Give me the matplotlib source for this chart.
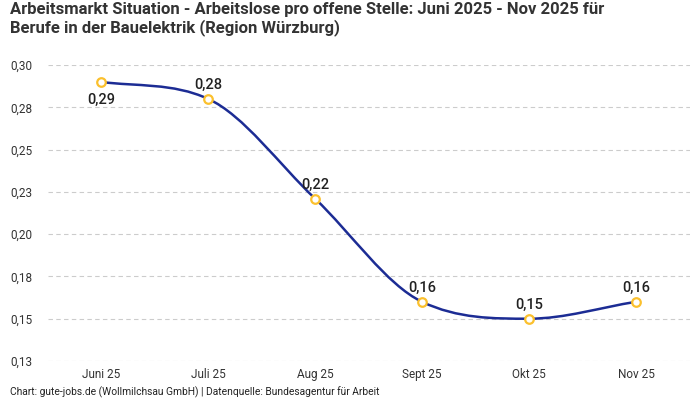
import numpy as np
import matplotlib.pyplot as plt
from matplotlib.path import Path
from matplotlib.patches import PathPatch
from matplotlib.ticker import FuncFormatter

months = ['Juni 25', 'Juli 25', 'Aug 25', 'Sept 25', 'Okt 25', 'Nov 25']
values = [0.29, 0.28, 0.221, 0.16, 0.15, 0.16]
labels = ['0,29', '0,28', '0,22', '0,16', '0,15', '0,16']

plt.rcParams['font.family'] = ['Roboto', 'DejaVu Sans']

fig = plt.figure(figsize=(7, 4), dpi=100)
ax = fig.add_axes([0.068, 0.0975, 0.917, 0.74])

x = np.arange(len(months))
y = np.array(values)

# monotone cubic tangents (same idea as chart.js "monotone"), drawn as bezier segments
d = np.diff(y) / np.diff(x)
n = len(y)
m = np.zeros(n)
for i in range(n):
    if i == 0:
        m[i] = d[0]
    elif i == n - 1:
        m[i] = d[-1]
    elif np.sign(d[i - 1]) != np.sign(d[i]):
        m[i] = 0
    else:
        m[i] = (d[i - 1] + d[i]) / 2
for i in range(n - 1):
    if d[i] == 0:
        m[i] = m[i + 1] = 0
        continue
    a, b = m[i] / d[i], m[i + 1] / d[i]
    s = a * a + b * b
    if s > 9:
        t = 3 / np.sqrt(s)
        m[i] = a * t * d[i]
        m[i + 1] = b * t * d[i]

verts = [(x[0], y[0])]
codes = [Path.MOVETO]
for i in range(n - 1):
    h = x[i + 1] - x[i]
    verts += [(x[i] + h / 3, y[i] + m[i] * h / 3),
              (x[i + 1] - h / 3, y[i + 1] - m[i + 1] * h / 3),
              (x[i + 1], y[i + 1])]
    codes += [Path.CURVE4] * 3
ax.add_patch(PathPatch(Path(verts, codes), facecolor='none',
                       edgecolor='#1c2c94', lw=1.8, zorder=3))

ax.scatter(x, y, s=38, facecolor='white', edgecolor='#fbc02d',
           linewidth=1.6, zorder=4)

for i, (xi, yi) in enumerate(zip(x, y)):
    if i == 0:
        ax.annotate(labels[i], (xi, yi), xytext=(0, -8), textcoords='offset points',
                    ha='center', va='top', fontsize=10.5, fontweight='medium', color='#222222')
    else:
        ax.annotate(labels[i], (xi, yi), xytext=(0, 5), textcoords='offset points',
                    ha='center', va='bottom', fontsize=10.5, fontweight='medium', color='#222222')

ax.set_xlim(-0.5, len(months) - 0.5)
ax.set_ylim(0.125, 0.30)
ax.set_xticks(x)
ax.set_xticklabels(months)
ax.set_yticks([0.125, 0.15, 0.175, 0.2, 0.225, 0.25, 0.275, 0.30])
ax.yaxis.set_major_formatter(FuncFormatter(lambda v, p: f'{v + 1e-9:.2f}'.replace('.', ',')))
ax.tick_params(axis='both', length=0, labelsize=8.5, colors='#333333')
ax.tick_params(axis='x', pad=5)
ax.tick_params(axis='y', pad=27)
for lab in ax.get_yticklabels():
    lab.set_horizontalalignment('left')
ax.grid(axis='y', color='#cccccc', linestyle=(0, (4, 3)), linewidth=0.8)
ax.set_axisbelow(True)
for s in ax.spines.values():
    s.set_visible(False)

fig.text(0.014, 0.995, 'Arbeitsmarkt Situation - Arbeitslose pro offene Stelle: Juni 2025 - Nov 2025 für\nBerufe in der Bauelektrik (Region Würzburg)',
         ha='left', va='top', fontsize=12, fontweight='bold', color='#333333', linespacing=1.15)
fig.text(0.014, 0.004, 'Chart: gute-jobs.de (Wollmilchsau GmbH) | Datenquelle: Bundesagentur für Arbeit',
         ha='left', va='bottom', fontsize=7.4, color='#222222')

fig.savefig('out.png', dpi=100)
